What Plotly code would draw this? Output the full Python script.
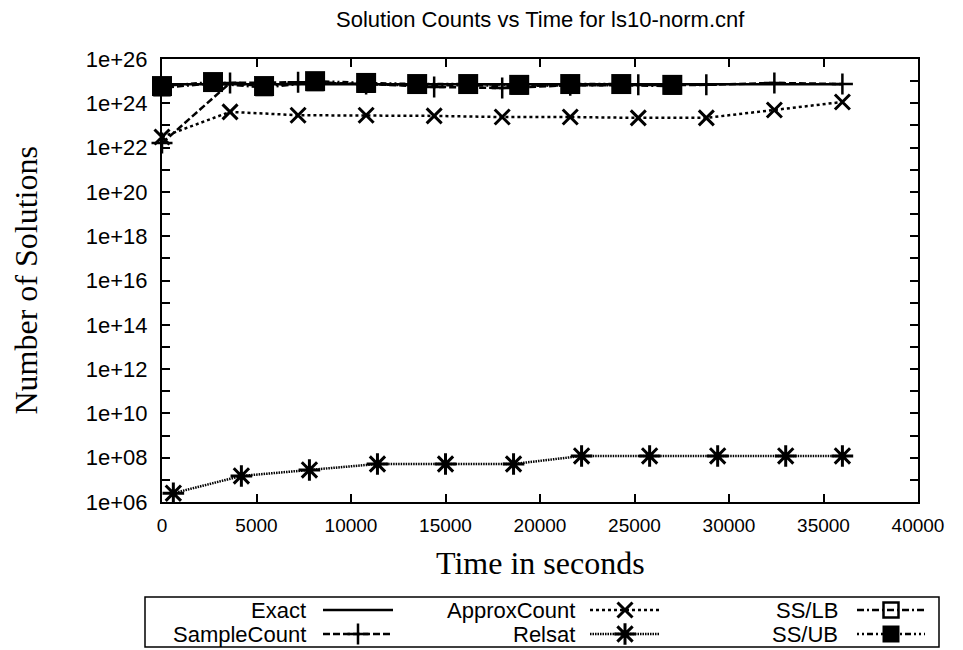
import plotly.graph_objects as go

# ---------------- data ----------------
exact_x = [0, 36000]
exact_y = [7.2e24, 7.2e24]

sample_x = [0, 3600, 7200, 10800, 14400, 18000, 21600, 25200, 28800, 32400, 36000]
sample_y = [1.6e22, 8.3e24, 9.0e24, 7.5e24, 5.5e24, 4.9e24, 6.5e24, 6.8e24, 6.8e24, 8.3e24, 7.4e24]

approx_x = [0, 3600, 7200, 10800, 14400, 18000, 21600, 25200, 28800, 32400, 36000]
approx_y = [3.0e22, 4.1e23, 2.9e23, 2.9e23, 2.7e23, 2.4e23, 2.4e23, 2.2e23, 2.2e23, 5.0e23, 1.15e24]

relsat_x = [600, 4200, 7800, 11400, 15000, 18600, 22200, 25800, 29400, 33000, 36000]
relsat_y = [2.5e6, 1.5e7, 2.8e7, 5.2e7, 5.2e7, 5.2e7, 1.2e8, 1.2e8, 1.2e8, 1.2e8, 1.2e8]

ss_x = [0, 2700, 5400, 8100, 10800, 13500, 16200, 18900, 21600, 24300, 27000]
sslb_y = [5.0e24, 8.0e24, 5.2e24, 8.8e24, 7.2e24, 6.5e24, 6.5e24, 6.0e24, 6.5e24, 6.5e24, 6.0e24]
ssub_y = [6.0e24, 9.1e24, 6.0e24, 1.0e25, 8.3e24, 7.4e24, 7.4e24, 6.8e24, 7.4e24, 7.4e24, 6.8e24]

series_names = ["Exact", "SampleCount", "ApproxCount", "Relsat", "SS/LB", "SS/UB"]

x_tickvals = [0, 5000, 10000, 15000, 20000, 25000, 30000, 35000, 40000]
x_ticktext = ["0", "5000", "10000", "15000", "20000", "25000", "30000", "35000", "40000"]
y_exps = list(range(6, 27))
y_tickvals = [10.0 ** e for e in y_exps]
y_ticktext = [("1e+%02d" % e) if e % 2 == 0 else "" for e in y_exps]

# ---------------- styles ----------------
W, H = 963, 650
PL, PR, PT, PB = 162, 918, 59, 502  # plot area in pixels
SANS = "Liberation Sans, Arial, sans-serif"
SERIF = "Liberation Serif, Times New Roman, serif"

styles = {
    "Exact": dict(dash="solid", symbol=None, size=0, lw=0, filled=False),
    "SampleCount": dict(dash="7px,3px", symbol="cross-thin-open", size=15, lw=2.5, filled=False),
    "ApproxCount": dict(dash="3px,3px", symbol="x-thin-open", size=15, lw=3, filled=False),
    "Relsat": dict(dash="1.5px,1px", symbol="asterisk-open", size=18, lw=3, filled=False),
    "SS/LB": dict(dash="7px,3px,2px,3px", symbol="square-open", size=15, lw=2.5, filled=False),
    "SS/UB": dict(dash="2px,3px,2px,3px,6px,3px", symbol="square", size=20, lw=0, filled=True),
}

data = {
    "Exact": (exact_x, exact_y),
    "SampleCount": (sample_x, sample_y),
    "ApproxCount": (approx_x, approx_y),
    "Relsat": (relsat_x, relsat_y),
    "SS/LB": (ss_x, sslb_y),
    "SS/UB": (ss_x, ssub_y),
}

fig = go.Figure()

for name in series_names:
    xs, ys = data[name]
    st = styles[name]
    mode = "lines" if st["symbol"] is None else "lines+markers"
    marker = None
    if st["symbol"] is not None:
        marker = dict(symbol=st["symbol"], size=st["size"], color="black",
                      line=dict(color="black", width=st["lw"]))
    fig.add_trace(go.Scatter(
        x=xs, y=ys, mode=mode, name=name, showlegend=False,
        line=dict(color="black", width=2.5, dash=st["dash"]),
        marker=marker, cliponaxis=False, xaxis="x", yaxis="y",
    ))

# ---------------- custom legend (gnuplot style) ----------------
leg_cols = [(308, 323, 393), (577, 590, 660), (840, 857, 925)]  # text right, sample start, sample end
leg_rows = [610, 634]
annotations = []
for i, name in enumerate(series_names):
    col = i // 2
    row = i % 2
    tr, s0, s1 = leg_cols[col]
    yy = leg_rows[row]
    st = styles[name]
    fig.add_trace(go.Scatter(
        x=[s0, s1], y=[yy, yy], mode="lines", showlegend=False, hoverinfo="skip",
        line=dict(color="black", width=2.5, dash=st["dash"]),
        xaxis="x2", yaxis="y2", cliponaxis=False,
    ))
    if st["symbol"] is not None:
        fig.add_trace(go.Scatter(
            x=[(s0 + s1) / 2], y=[yy], mode="markers", showlegend=False, hoverinfo="skip",
            marker=dict(symbol=st["symbol"], size=st["size"] - (3 if st["filled"] else 0), color="black",
                        line=dict(color="black", width=st["lw"])),
            xaxis="x2", yaxis="y2", cliponaxis=False,
        ))
    annotations.append(dict(
        x=tr, y=yy, xref="x2", yref="y2", text=name, showarrow=False,
        xanchor="right", yanchor="middle", font=dict(family=SANS, size=22, color="black"),
    ))

# title and axis titles
annotations.append(dict(x=(PL + PR) / 2 / W, y=1 - 19 / H, xref="paper", yref="paper",
                        text="Solution Counts vs Time for ls10-norm.cnf", showarrow=False,
                        xanchor="center", yanchor="middle",
                        font=dict(family=SANS, size=22, color="black")))
annotations.append(dict(x=(PL + PR) / 2 / W, y=1 - 563 / H, xref="paper", yref="paper",
                        text="Time in seconds", showarrow=False,
                        xanchor="center", yanchor="middle",
                        font=dict(family=SERIF, size=32, color="black")))
annotations.append(dict(x=25 / W, y=1 - (PT + PB) / 2 / H, xref="paper", yref="paper",
                        text="Number of Solutions", showarrow=False, textangle=-90,
                        xanchor="center", yanchor="middle",
                        font=dict(family=SERIF, size=32, color="black")))

shapes = [dict(type="rect", xref="x2", yref="y2", x0=145, x1=939, y0=597, y1=647,
               line=dict(color="black", width=1.5), fillcolor="rgba(0,0,0,0)")]

fig.update_layout(
    width=W, height=H,
    margin=dict(l=0, r=0, t=0, b=0, autoexpand=False),
    paper_bgcolor="white", plot_bgcolor="rgba(0,0,0,0)",
    showlegend=False,
    xaxis=dict(domain=[PL / W, PR / W], range=[0, 40000], tickvals=x_tickvals, ticktext=x_ticktext,
               ticks="inside", ticklen=8, tickwidth=1.5, tickcolor="black",
               showline=True, linecolor="black", linewidth=2, mirror="ticks",
               showgrid=False, zeroline=False, anchor="y", automargin=False,
               tickfont=dict(family=SANS, size=19, color="black"), ticklabelstandoff=5),
    yaxis=dict(domain=[1 - PB / H, 1 - PT / H], type="log", range=[6, 26],
               tickvals=y_tickvals, ticktext=y_ticktext,
               ticks="inside", ticklen=8, tickwidth=1.5, tickcolor="black",
               showline=True, linecolor="black", linewidth=2, mirror="ticks",
               showgrid=False, zeroline=False, anchor="x", automargin=False,
               tickfont=dict(family=SANS, size=22, color="black"), ticklabelstandoff=8),
    xaxis2=dict(domain=[0, 1], range=[0, W], visible=False, anchor="y2", fixedrange=True),
    yaxis2=dict(domain=[0, 1], range=[H, 0], visible=False, anchor="x2", fixedrange=True),
    annotations=annotations,
    shapes=shapes,
)

fig.write_html("out.html", config={"displayModeBar": False},
               post_script="document.body.style.margin='0';document.body.style.overflow='hidden';")
